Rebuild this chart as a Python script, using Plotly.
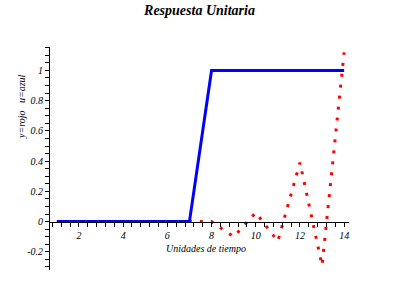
import plotly.graph_objects as go

# Data
t = [1, 2, 3, 4, 5, 6, 7, 8, 9, 10, 11, 12, 13, 14]
u_azul = [0, 0, 0, 0, 0, 0, 0, 1, 1, 1, 1, 1, 1, 1]
y_rojo = [0, 0, 0, 0, 0, 0, 0, 0, -0.1, 0.06, -0.13, 0.39, -0.29, 1.12]

y_tickvals = [-0.2, 0, 0.2, 0.4, 0.6, 0.8, 1]
y_ticktext = ["-0.2", "0", "0.2", "0.4", "0.6", "0.8", "1"]
x_tickvals = [2, 4, 6, 8, 10, 12, 14]

title_text = "Respuesta Unitaria"
x_title = "Unidades de tiempo"
y_title = "y=rojo   u=azul"

xmin, xmax = 0.69, 14.22
ymin, ymax = -0.32, 1.155

serif = "Liberation Serif, Times New Roman, serif"

fig = go.Figure()
fig.add_trace(go.Scatter(x=t, y=y_rojo, mode="lines",
                         line=dict(color="#ff0000", width=3, dash="3px,8px"),
                         showlegend=False))
fig.add_trace(go.Scatter(x=t, y=u_azul, mode="lines",
                         line=dict(color="#0000ff", width=3),
                         showlegend=False))

fig.update_layout(
    width=400, height=300,
    margin=dict(l=50, r=51, t=47, b=30),
    paper_bgcolor="white", plot_bgcolor="white",
    title=dict(text=title_text, x=0.5, xref="paper", y=1 - 10 / 300, yanchor="middle",
               font=dict(family=serif, size=14, color="black", weight="bold", style="italic")),
    xaxis=dict(range=[xmin, xmax], showgrid=False, zeroline=False,
               showline=True, linecolor="black", linewidth=1,
               anchor="free", position=(0 - ymin) / (ymax - ymin),
               tickvals=x_tickvals, ticks="outside", ticklen=4, tickcolor="black",
               tickfont=dict(family=serif, size=10, color="black", style="italic"),
               minor=dict(dtick=0.4, tick0=0, ticks="outside", ticklen=4, tickcolor="black")),
    yaxis=dict(range=[ymin, ymax], showgrid=False, zeroline=False,
               showline=True, linecolor="black", linewidth=1,
               tickvals=y_tickvals, ticktext=y_ticktext,
               ticks="outside", ticklen=4, tickcolor="black",
               tickfont=dict(family=serif, size=10, color="black", style="italic"),
               minor=dict(dtick=0.05, tick0=0, ticks="outside", ticklen=4, tickcolor="black")),
    annotations=[
        dict(text=x_title, xref="paper", yref="paper", x=0.522, y=(270 - 248) / 223,
             showarrow=False, xanchor="center", yanchor="middle",
             font=dict(family=serif, size=10, color="black", style="italic")),
        dict(text=y_title, xref="paper", yref="paper", x=(21 - 50) / 299, y=(270 - 107) / 223,
             showarrow=False, xanchor="center", yanchor="middle", textangle=-90,
             font=dict(family=serif, size=10, color="black", style="italic")),
    ],
)

fig.write_html("out.html")
